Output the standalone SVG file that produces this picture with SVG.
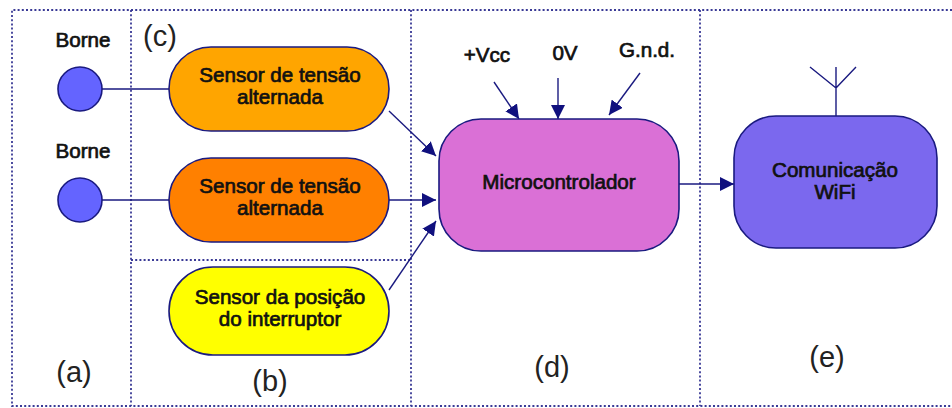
<svg xmlns="http://www.w3.org/2000/svg" width="952" height="408" viewBox="0 0 952 408">
<style>
.reg{fill:none;stroke:#3a3a96;stroke-width:1.8;stroke-dasharray:2 2.2}
.n{stroke:#1a1a80;stroke-width:1.6}
.c{fill:none;stroke:#1a1a80;stroke-width:1.4}
.a{marker-end:url(#ah)}
text{font-family:"Liberation Sans",Arial,sans-serif;fill:#111;text-anchor:middle}
.t{font-size:20.6px;stroke:#111;stroke-width:.7}
.l{font-size:29px;fill:#222}
</style>
<defs><marker id="ah" markerUnits="userSpaceOnUse" markerWidth="15" markerHeight="14" refX="14" refY="7" orient="auto"><path d="M0 0L14 7L0 14Z" fill="#10107e"/></marker></defs>
<rect width="952" height="408" fill="#fff"/>
<g id="regions">
<path class="reg" d="M952 10H12V406H952"/>
<path class="reg" d="M131 10V406M411 10V406M700 10V406M131 260H411"/>
</g>
<g id="connectors">
<path class="c" d="M102 89H169M102 200H169"/>
<path class="c a" d="M389 111L436 156"/>
<path class="c a" d="M389 200H436"/>
<path class="c a" d="M389 290L436 221"/>
<path class="c a" d="M494 82L519 119"/>
<path class="c a" d="M558 78V119"/>
<path class="c a" d="M640 73L609 115"/>
<path class="c a" d="M679 184H734"/>
<path class="c" d="M836 116V67M836 88L810 67M836 88L856 67"/>
</g>
<g id="borne1"><text class="t" x="83" y="47">Borne</text><circle class="n" cx="80" cy="89" r="22" fill="#6464ff"/></g>
<g id="borne2"><text class="t" x="83" y="158">Borne</text><circle class="n" cx="80" cy="200" r="22" fill="#6464ff"/></g>
<g id="sensor1"><rect class="n" x="169" y="47" width="220" height="84" rx="42" fill="#ffa500"/><text class="t" x="280" y="82">Sensor de tensão</text><text class="t" x="280" y="104">alternada</text></g>
<g id="sensor2"><rect class="n" x="169" y="158" width="220" height="84" rx="42" fill="#ff8000"/><text class="t" x="280" y="193">Sensor de tensão</text><text class="t" x="280" y="215">alternada</text></g>
<g id="sensor3"><rect class="n" x="169" y="267" width="220" height="88" rx="44" fill="#ffff00"/><text class="t" x="280" y="304">Sensor da posição</text><text class="t" x="280" y="326">do interruptor</text></g>
<g id="micro"><rect class="n" x="439" y="119" width="240" height="132" rx="42" fill="#da70d6"/><text class="t" x="559" y="189">Microcontrolador</text></g>
<g id="wifi"><rect class="n" x="734" y="116" width="203" height="132" rx="42" fill="#7b68ee"/><text class="t" x="835" y="177">Comunicação</text><text class="t" x="835" y="199">WiFi</text></g>
<g id="labels">
<text class="t" x="487" y="62">+Vcc</text><text class="t" x="565" y="60">0V</text><text class="t" x="647" y="57">G.n.d.</text>
<text class="l" x="160" y="46">(c)</text><text class="l" x="74" y="382">(a)</text><text class="l" x="270" y="391">(b)</text><text class="l" x="552" y="377">(d)</text><text class="l" x="827" y="367">(e)</text>
</g>
</svg>
